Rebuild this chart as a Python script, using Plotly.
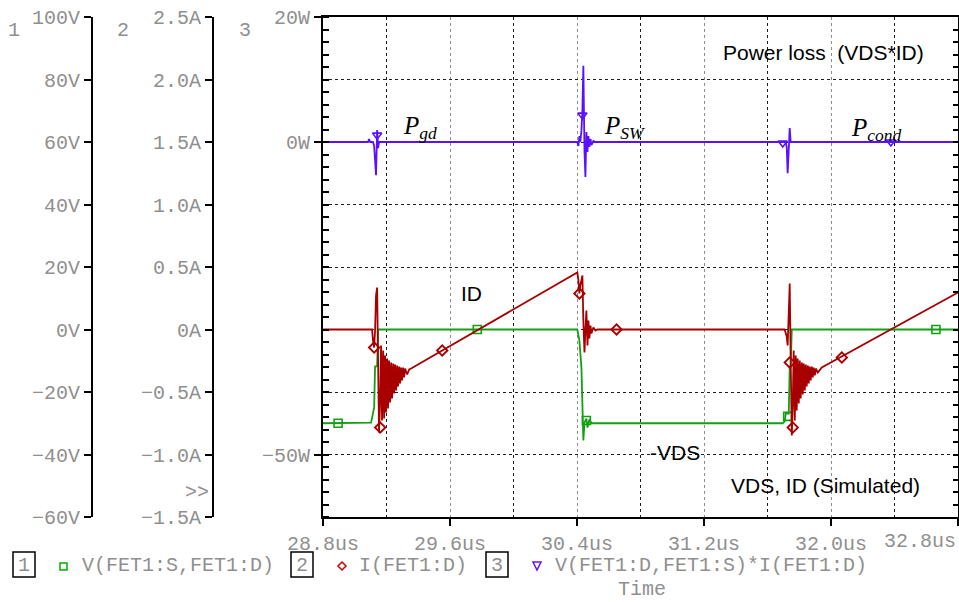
import plotly.graph_objects as go

# ---------------- waveform data (time in microseconds) ----------------
# Trace 1: V(FET1:S,FET1:D)  i.e. -VDS, volts
vsd_t = [28.800, 29.090, 29.103, 29.122, 29.128, 29.141, 29.147, 30.402, 30.415, 30.428,
         30.434, 30.440, 30.447, 30.459, 30.466, 30.478, 30.491, 31.696, 31.708, 31.715,
         31.734, 31.740, 31.746, 31.753, 32.800]
vsd_v = [-30.0, -30.0, -29.8, -25.0, -11.8, -11.8, 0.0, 0.0, -3.5, -12.2,
         -22.7, -35.5, -29.8, -28.5, -31.4, -28.8, -30.0, -30.0, -29.4, -26.9,
         -26.9, -11.8, -11.8, 0.0, 0.0]
vsd_mark_t = [28.895, 29.772, 30.459, 31.727, 32.661]
vsd_mark_v = [-30.0, 0.0, -29.1, -27.8, 0.0]

# Trace 2: I(FET1:D), amperes
id_t = [28.800, 29.109, 29.115, 29.122, 29.128, 29.134, 29.141, 29.147, 29.153, 29.160,
        29.166, 29.172, 29.179, 29.185, 29.191, 29.197, 29.204, 29.210, 29.216, 29.223,
        29.229, 29.235, 29.242, 29.248, 29.254, 29.261, 29.267, 29.273, 29.280, 29.286,
        29.292, 29.298, 29.305, 29.311, 29.317, 29.330, 29.343, 29.355, 30.402, 30.409,
        30.415, 30.421, 30.434, 30.440, 30.447, 30.453, 30.459, 30.466, 30.472, 30.478,
        30.485, 30.491, 30.503, 30.516, 30.529, 31.708, 31.715, 31.721, 31.727, 31.734,
        31.740, 31.746, 31.753, 31.759, 31.765, 31.772, 31.778, 31.784, 31.790, 31.797,
        31.803, 31.809, 31.816, 31.822, 31.828, 31.835, 31.841, 31.847, 31.854, 31.860,
        31.866, 31.872, 31.879, 31.885, 31.891, 31.898, 31.904, 31.917, 31.929, 31.942,
        32.800]
id_a = [0.0, 0.0, -0.088, -0.144, -0.008, 0.272, 0.336, -0.248, -0.824, -0.568,
        -0.128, -0.728, -0.168, -0.712, -0.208, -0.664, -0.232, -0.632, -0.248, -0.584,
        -0.264, -0.552, -0.272, -0.512, -0.280, -0.488, -0.288, -0.456, -0.296, -0.432,
        -0.304, -0.408, -0.304, -0.384, -0.312, -0.360, -0.320, -0.312, 0.456, 0.392,
        0.288, 0.352, 0.432, 0.072, -0.184, -0.008, 0.152, -0.128, 0.072, -0.072,
        0.032, -0.032, 0.016, -0.008, 0.0, 0.0, -0.032, -0.056, -0.128, 0.232,
        0.368, -0.248, -0.848, -0.608, -0.168, -0.728, -0.208, -0.648, -0.232, -0.592,
        -0.248, -0.552, -0.264, -0.520, -0.272, -0.488, -0.280, -0.456, -0.288, -0.432,
        -0.296, -0.408, -0.296, -0.384, -0.304, -0.368, -0.312, -0.344, -0.320, -0.304,
        0.296]
id_mark_t = [29.122, 29.160, 29.551, 30.415, 30.649, 31.740, 31.759, 32.068]
id_mark_a = [-0.144, -0.784, -0.168, 0.288, 0.0, -0.264, -0.784, -0.224]

# Trace 3: V(FET1:D,FET1:S)*I(FET1:D), watts
p_t = [28.800, 29.084, 29.090, 29.097, 29.115, 29.122, 29.128, 29.134, 29.141, 29.147,
       29.153, 30.402, 30.409, 30.415, 30.421, 30.428, 30.434, 30.440, 30.447, 30.453,
       30.459, 30.466, 30.472, 30.478, 30.485, 30.491, 30.503, 30.516, 31.715, 31.721,
       31.727, 31.734, 31.740, 31.746, 32.800]
p_w = [0.0, 0.0, 0.48, 0.0, 0.0, -0.64, -2.9, -5.3, 1.9, -0.96,
       0.0, 0.0, -0.64, 0.96, 0.0, 1.9, 5.1, 12.2, -1.28, -5.6,
       1.6, -1.6, 0.96, -0.8, 0.48, -0.48, 0.16, 0.0, 0.0, -0.8,
       -5.0, -1.3, 2.24, 0.0, 0.0]
p_mark_t = [29.141, 30.434, 31.696, 32.377]
p_mark_w = [1.1, 4.3, -0.16, 0.0]

# ---------------- axes ticks ----------------
time_ticks = [28.8, 29.6, 30.4, 31.2, 32.0, 32.8]
time_text = ["28.8us", "29.6us", "30.4us", "31.2us", "32.0us", ""]
volt_ticks = [-60, -40, -20, 0, 20, 40, 60, 80, 100]
volt_text = ["\u221260V", "\u221240V", "\u221220V", "0V", "20V", "40V", "60V", "80V", "100V"]
amp_ticks = [-1.5, -1.0, -0.5, 0.0, 0.5, 1.0, 1.5, 2.0, 2.5]
amp_text = ["\u22121.5A", "\u22121.0A", "\u22120.5A", "0A", "0.5A", "1.0A", "1.5A", "2.0A", "2.5A"]
watt_ticks = [-50, 0, 20]
watt_text = ["\u221250W", "0W", "20W"]

W, H = 959, 602


def px(x):
    return x / W


def py(y):
    return 1 - y / H


GREEN = "#12A012"
RED = "#A80000"
BLUE = "#5A10FF"
MONO = "Liberation Mono"
GREY = "#8f8f8f"

fig = go.Figure()

fig.add_trace(go.Scatter(x=p_t, y=p_w, mode="lines", line=dict(color=BLUE, width=1.8),
                         yaxis="y", showlegend=False, hoverinfo="skip"))
fig.add_trace(go.Scatter(x=p_mark_t, y=p_mark_w, mode="markers",
                         marker=dict(symbol="triangle-down-open", size=8, color=BLUE,
                                     line=dict(width=1.6, color=BLUE)),
                         yaxis="y", showlegend=False, hoverinfo="skip"))
fig.add_trace(go.Scatter(x=vsd_t, y=vsd_v, mode="lines", line=dict(color=GREEN, width=1.8),
                         yaxis="y2", showlegend=False, hoverinfo="skip"))
fig.add_trace(go.Scatter(x=vsd_mark_t, y=vsd_mark_v, mode="markers",
                         marker=dict(symbol="square-open", size=8, color=GREEN,
                                     line=dict(width=1.6, color=GREEN)),
                         yaxis="y2", showlegend=False, hoverinfo="skip"))
fig.add_trace(go.Scatter(x=id_t, y=id_a, mode="lines", line=dict(color=RED, width=1.8),
                         yaxis="y3", showlegend=False, hoverinfo="skip"))
fig.add_trace(go.Scatter(x=id_mark_t, y=id_mark_a, mode="markers",
                         marker=dict(symbol="diamond-open", size=8, color=RED,
                                     line=dict(width=1.8, color=RED)),
                         yaxis="y3", showlegend=False, hoverinfo="skip"))
# carrier for the right-hand tick scale
fig.add_trace(go.Scatter(x=[None], y=[None], mode="lines", yaxis="y4",
                         showlegend=False, hoverinfo="skip"))

tickfont = dict(family=MONO, size=20, color=GREY)

fig.update_layout(
    width=W, height=H, autosize=False,
    margin=dict(l=0, r=0, t=0, b=0, pad=0, autoexpand=False),
    paper_bgcolor="white", plot_bgcolor="white",
    showlegend=False,
    xaxis=dict(
        domain=[px(323), px(958)], range=[28.8, 32.8], automargin=False,
        tickvals=time_ticks, ticktext=time_text, tickfont=tickfont,
        ticks="outside", ticklen=7, tickwidth=2, tickcolor="black",
        showline=True, linewidth=2, linecolor="black", mirror=True,
        showgrid=True, griddash="dot", gridcolor="#8c8c8c", gridwidth=1,
        minor=dict(tick0=28.8, dtick=0.4, showgrid=True, griddash="dot",
                   gridcolor="#1e1e1e", gridwidth=1, ticks=""),
        zeroline=False, fixedrange=True,
    ),
    yaxis=dict(
        domain=[py(517), py(17)], range=[-60, 20], anchor="x", automargin=False,
        tickvals=watt_ticks, ticktext=watt_text, tickfont=tickfont,
        ticks="outside", ticklen=7, tickwidth=2, tickcolor="black",
        showline=True, linewidth=2, linecolor="black", mirror=True,
        showgrid=False, zeroline=False,
        minor=dict(tick0=0, dtick=2, ticks="inside", ticklen=6, tickwidth=1.5,
                   tickcolor="black", showgrid=False),
    ),
    yaxis2=dict(
        overlaying="y", anchor="free", position=px(92), side="left", automargin=False,
        range=[-60, 100], tickvals=volt_ticks, ticktext=volt_text, tickfont=tickfont,
        ticks="outside", ticklen=7, tickwidth=2, tickcolor="black",
        showline=True, linewidth=2, linecolor="black",
        showgrid=True, griddash="dot", gridcolor="#1e1e1e", gridwidth=1,
        zeroline=False,
    ),
    yaxis3=dict(
        overlaying="y", anchor="free", position=px(213), side="left", automargin=False,
        range=[-1.5, 2.5], tickvals=amp_ticks, ticktext=amp_text, tickfont=tickfont,
        ticks="outside", ticklen=7, tickwidth=2, tickcolor="black",
        showline=True, linewidth=2, linecolor="black",
        showgrid=False, zeroline=False,
    ),
    yaxis4=dict(
        overlaying="y", anchor="x", side="right", range=[-60, 20], automargin=False,
        tickvals=list(range(-60, 21, 2)), showticklabels=False,
        ticks="inside", ticklen=5, tickwidth=1.5, tickcolor="black",
        showline=False, showgrid=False, zeroline=False,
    ),
)

annotations = []


def note(text, x, y, size=21, family="Liberation Sans", color="black",
         xanchor="center", yanchor="middle"):
    annotations.append(dict(text=text, x=px(x), y=py(y), xref="paper", yref="paper",
                            showarrow=False, xanchor=xanchor, yanchor=yanchor,
                            font=dict(family=family, size=size, color=color), borderpad=1))


# labels inside the plot
note("Power loss  (VDS*ID)", 823, 52)
note("ID", 471, 293)
note("-VDS", 675, 452)
note("VDS, ID (Simulated)", 825, 485)
note("<i>P<sub>gd</sub></i>", 401, 127, size=25, family="Liberation Serif", xanchor="left")
note("<i>P<sub>SW</sub></i>", 602, 127, size=25, family="Liberation Serif", xanchor="left")
note("<i>P<sub>cond</sub></i>", 849, 130, size=25, family="Liberation Serif", xanchor="left")

# axis numbers and overflow mark
note("1", 14, 31, size=20, family=MONO, color=GREY)
note("2", 123, 31, size=20, family=MONO, color=GREY)
note("3", 245, 31, size=20, family=MONO, color=GREY)
note(">>", 197, 492, size=20, family=MONO, color=GREY)
note("32.8us", 958, 541, size=20, family=MONO, color=GREY, xanchor="right")

# trace legend along the bottom
LEG_Y = 565
note("1", 24, LEG_Y, size=20, family=MONO, color=GREY)
note("V(FET1:S,FET1:D)", 80, LEG_Y, size=20, family=MONO, color=GREY, xanchor="left")
note("2", 302, LEG_Y, size=20, family=MONO, color=GREY)
note("I(FET1:D)", 357, LEG_Y, size=20, family=MONO, color=GREY, xanchor="left")
note("3", 497, LEG_Y, size=20, family=MONO, color=GREY)
note("V(FET1:D,FET1:S)*I(FET1:D)", 553, LEG_Y, size=20, family=MONO, color=GREY,
     xanchor="left")
note("Time", 642, 589, size=20, family=MONO, color=GREY)

shapes = []
# white patches behind the in-plot captions (hide the dotted grid there)
for (x0, x1, y0, y1) in [(700, 946, 28, 78), (440, 500, 262, 317), (640, 727, 442, 466)]:
    shapes.append(dict(type="rect", xref="paper", yref="paper", layer="between",
                       x0=px(x0), x1=px(x1), y0=py(y1), y1=py(y0),
                       line=dict(width=0), fillcolor="white"))
for x0 in (13, 291, 486):
    shapes.append(dict(type="rect", xref="paper", yref="paper",
                       x0=px(x0), x1=px(x0 + 22), y0=py(552), y1=py(577),
                       line=dict(color="black", width=1.5), fillcolor="rgba(0,0,0,0)"))
# legend symbols
shapes.append(dict(type="rect", xref="paper", yref="paper",
                   x0=px(60), x1=px(67), y0=py(563), y1=py(570),
                   line=dict(color="#00B000", width=1.5)))
cx, cy = 342, 566
shapes.append(dict(type="path", xref="paper", yref="paper",
                   path=f"M {px(cx)},{py(cy-4)} L {px(cx+4)},{py(cy)} L {px(cx)},{py(cy+4)} "
                        f"L {px(cx-4)},{py(cy)} Z",
                   line=dict(color="#D00000", width=1.5)))
cx, cy = 537, 566
shapes.append(dict(type="path", xref="paper", yref="paper",
                   path=f"M {px(cx-4)},{py(cy-4)} L {px(cx+4)},{py(cy-4)} L {px(cx)},{py(cy+4)} Z",
                   line=dict(color="#6A10FF", width=1.5)))

fig.update_layout(annotations=annotations, shapes=shapes)

fig.write_html("out.html")
